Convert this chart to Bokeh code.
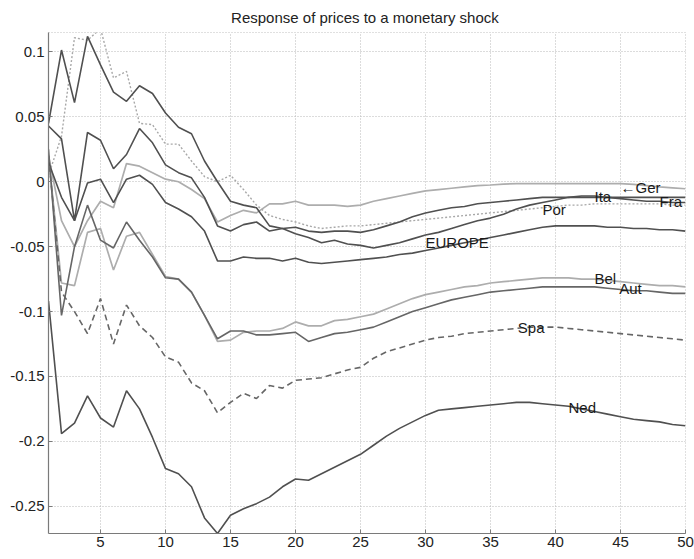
from bokeh.plotting import figure
from bokeh.models import FixedTicker, Range1d
from bokeh.core.properties import value
from bokeh.embed import file_html
from bokeh.resources import INLINE

# Horizon (periods after the shock)
periods = list(range(1, 51))

# Impulse responses of prices, by country
fra = [0.045, 0.1015, 0.061, 0.112, 0.090, 0.069, 0.062, 0.074, 0.068, 0.053,
       0.042, 0.037, 0.016, 0.000, -0.015, -0.018, -0.020, -0.034, -0.036, -0.040,
       -0.043, -0.047, -0.045, -0.048, -0.049,
       -0.051, -0.049, -0.047, -0.044, -0.041, -0.039, -0.036, -0.033, -0.030, -0.028,
       -0.025, -0.021, -0.018, -0.016, -0.014, -0.012, -0.011, -0.011, -0.012, -0.013,
       -0.014, -0.015, -0.015, -0.016, -0.016]
ita = [0.043, 0.033, -0.030, 0.038, 0.032, 0.010, 0.021, 0.041, 0.030, 0.013,
       0.007, 0.003, -0.012, -0.034, -0.038, -0.033, -0.031, -0.038, -0.036, -0.035,
       -0.038, -0.039, -0.038, -0.038, -0.039,
       -0.037, -0.034, -0.031, -0.027, -0.024, -0.022, -0.020, -0.019, -0.017, -0.016,
       -0.015, -0.014, -0.013, -0.012, -0.012, -0.012, -0.012, -0.012, -0.012, -0.012,
       -0.012, -0.012, -0.012, -0.012, -0.012]
europe = [0.015, -0.012, -0.030, -0.001, 0.002, -0.016, 0.002, 0.005, -0.002, -0.016,
          -0.021, -0.027, -0.038, -0.061, -0.061, -0.058, -0.059, -0.059, -0.061, -0.059,
          -0.062, -0.063, -0.062, -0.061, -0.060,
          -0.059, -0.058, -0.056, -0.055, -0.053, -0.051, -0.049, -0.047, -0.045, -0.043,
          -0.041, -0.039, -0.037, -0.035, -0.034, -0.034, -0.034, -0.034, -0.035, -0.035,
          -0.036, -0.036, -0.037, -0.037, -0.038]
ger = [0.020, -0.030, -0.050, -0.030, -0.015, -0.020, 0.014, 0.012, 0.007, 0.002,
       0.000, -0.006, -0.013, -0.031, -0.026, -0.022, -0.024, -0.017, -0.017, -0.015,
       -0.018, -0.018, -0.018, -0.019, -0.018,
       -0.015, -0.013, -0.011, -0.009, -0.007, -0.006, -0.005, -0.004, -0.003, -0.0025,
       -0.0018, -0.0015, -0.0015, -0.0015, -0.0015, -0.0015, -0.0015, -0.0015, -0.0015, -0.0015,
       -0.002, -0.003, -0.004, -0.0047, -0.0054]
por = [0.005, 0.035, 0.111, 0.109, 0.118, 0.080, 0.085, 0.045, 0.044, 0.029,
       0.029, 0.016, 0.004, 0.000, 0.005, -0.006, -0.018, -0.026, -0.029, -0.031,
       -0.034, -0.036, -0.035, -0.034, -0.034,
       -0.033, -0.032, -0.031, -0.030, -0.029, -0.028, -0.027, -0.026, -0.025, -0.024,
       -0.023, -0.022, -0.021, -0.020, -0.019, -0.018, -0.018, -0.017, -0.017, -0.017,
       -0.017, -0.017, -0.017, -0.018, -0.018]
bel = [0.020, -0.078, -0.080, -0.039, -0.036, -0.068, -0.042, -0.039, -0.056, -0.073,
       -0.075, -0.085, -0.103, -0.123, -0.122, -0.116, -0.115, -0.115, -0.113, -0.108,
       -0.111, -0.111, -0.107, -0.106, -0.104,
       -0.102, -0.098, -0.094, -0.090, -0.087, -0.085, -0.083, -0.081, -0.080, -0.078,
       -0.077, -0.076, -0.075, -0.074, -0.074, -0.074, -0.075, -0.075, -0.076, -0.077,
       -0.078, -0.079, -0.080, -0.080, -0.081]
aut = [0.025, -0.103, -0.050, -0.018, -0.045, -0.051, -0.031, -0.045, -0.058, -0.074,
       -0.075, -0.085, -0.103, -0.121, -0.115, -0.115, -0.118, -0.118, -0.117, -0.116,
       -0.123, -0.120, -0.117, -0.116, -0.114,
       -0.112, -0.108, -0.104, -0.100, -0.097, -0.094, -0.091, -0.089, -0.087, -0.085,
       -0.084, -0.083, -0.082, -0.081, -0.081, -0.081, -0.081, -0.081, -0.082, -0.083,
       -0.084, -0.084, -0.085, -0.086, -0.086]
spa = [0.020, -0.085, -0.100, -0.117, -0.090, -0.125, -0.095, -0.111, -0.120, -0.135,
       -0.139, -0.155, -0.161, -0.178, -0.170, -0.163, -0.167, -0.157, -0.159, -0.153,
       -0.152, -0.151, -0.148, -0.145, -0.143,
       -0.136, -0.131, -0.128, -0.125, -0.122, -0.120, -0.119, -0.117, -0.116, -0.115,
       -0.114, -0.113, -0.112, -0.112, -0.112, -0.113, -0.114, -0.115, -0.116, -0.117,
       -0.118, -0.119, -0.120, -0.121, -0.122]
ned = [-0.092, -0.194, -0.186, -0.165, -0.182, -0.189, -0.161, -0.175, -0.197, -0.221,
       -0.225, -0.235, -0.259, -0.271, -0.257, -0.252, -0.248, -0.243, -0.235, -0.229,
       -0.230, -0.225, -0.220, -0.215, -0.210,
       -0.203, -0.196, -0.190, -0.185, -0.180, -0.176, -0.175, -0.174, -0.173, -0.172,
       -0.171, -0.170, -0.170, -0.171, -0.172, -0.173, -0.175, -0.177, -0.179, -0.181,
       -0.183, -0.184, -0.185, -0.187, -0.188]

# Axis ticks
x_ticks = [5, 10, 15, 20, 25, 30, 35, 40, 45, 50]
y_ticks = [-0.25, -0.2, -0.15, -0.1, -0.05, 0, 0.05, 0.1]
y_tick_labels = ["-0.25", "-0.2", "-0.15", "-0.1", "-0.05", "0", "0.05", "0.1"]

# Series name labels written next to the curves
label_text = ["\u2190Ger", "Ita", "Fra", "Por", "EUROPE", "Bel", "Aut", "Spa", "Ned"]
label_t = [45.0, 43.0, 48.0, 39.0, 30.0, 43.0, 44.9, 37.1, 41.0]
label_v = [-0.0046, -0.0115, -0.0155, -0.0215, -0.047, -0.0746, -0.0823, -0.1123, -0.174]

FONT = "Liberation Sans"

p = figure(width=694, height=559, output_backend="svg", toolbar_location=None,
           x_range=Range1d(1, 50), y_range=Range1d(-0.271, 0.115),
           min_border_left=48, min_border_right=9, min_border_top=32,
           min_border_bottom=26, background_fill_color="white",
           border_fill_color="white")

p.title.text = "Response of prices  to a monetary shock"
p.title.align = "center"
p.title.vertical_align = "top"
p.title.text_font = FONT
p.title.text_font_size = "15px"
p.title.text_font_style = "normal"
p.title.text_color = "#222222"
p.title.offset = 12
p.title.standoff = 10

# Axes: inward ticks, grey spines
for ax in (p.xaxis[0], p.yaxis[0]):
    ax.axis_line_color = "#7a7a7a"
    ax.axis_line_width = 1.2
    ax.major_tick_in = 4
    ax.major_tick_out = 0
    ax.minor_tick_in = 0
    ax.minor_tick_out = 0
    ax.major_tick_line_color = "#7a7a7a"
    ax.major_label_text_font = FONT
    ax.major_label_text_font_size = "15px"
    ax.major_label_text_color = "#222222"

p.xaxis.ticker = FixedTicker(ticks=x_ticks)
p.xaxis.major_label_standoff = 3
p.yaxis.ticker = FixedTicker(ticks=y_ticks)
p.yaxis.major_label_overrides = {t: s for t, s in zip(y_ticks, y_tick_labels)}
p.yaxis.major_label_standoff = 4

p.xgrid.ticker = FixedTicker(ticks=x_ticks)
p.ygrid.ticker = FixedTicker(ticks=y_ticks)
for g in (p.xgrid[0], p.ygrid[0]):
    g.grid_line_color = "#b8b8b8"
    g.grid_line_dash = "1 2"
    g.grid_line_width = 1

p.outline_line_color = "#c0c0c0"
p.outline_line_dash = "1 2"
p.outline_line_width = 1

dark = "#505050"
mid = "#666666"
light = "#adadad"

p.line(periods, ger, line_color=light, line_width=1.7)
p.line(periods, bel, line_color=light, line_width=1.7)
p.line(periods, por, line_color="#a8a8a8", line_width=1.4, line_dash="2 2")
p.line(periods, aut, line_color=mid, line_width=1.6)
p.line(periods, fra, line_color=dark, line_width=1.6)
p.line(periods, ita, line_color=dark, line_width=1.6)
p.line(periods, europe, line_color=dark, line_width=1.6)
p.line(periods, spa, line_color=mid, line_width=1.6, line_dash="6 4")
p.line(periods, ned, line_color=dark, line_width=1.6)

p.text(x=label_t, y=label_v, text=label_text, text_font=value(FONT),
       text_font_size="15px", text_color="#1a1a1a",
       text_align="left", text_baseline="middle")

open("out.html", "w").write(file_html(p, INLINE))
